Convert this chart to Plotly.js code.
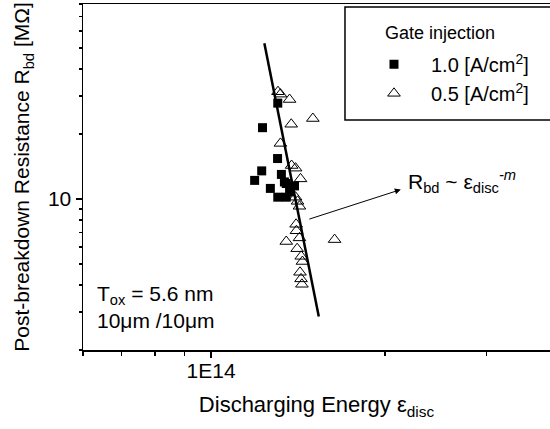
<!DOCTYPE html>
<html>
<head>
<meta charset="utf-8">
<script src="https://cdn.plot.ly/plotly-3.0.1.min.js"></script>
<style>html,body{margin:0;padding:0;background:#fff;}#chart{width:550px;height:429px;}</style>
</head>
<body>
<div id="chart"></div>
<script>
// Gate injection 1.0 A/cm2 (filled squares)
const sqX = [1.305e14, 1.228e14, 1.304e14, 1.224e14, 1.19e14, 1.324e14, 1.267e14, 1.305e14, 1.35e14, 1.35e14, 1.395e14, 1.34e14, 1.368e14];
const sqY = [27.8, 21.4, 15.4, 13.5, 12.2, 13.0, 11.2, 10.2, 10.2, 11.8, 11.5, 12.0, 10.8];
// Gate injection 0.5 A/cm2 (open triangles)
const trX = [1.306e14, 1.319e14, 1.368e14, 1.501e14, 1.377e14, 1.319e14, 1.379e14, 1.401e14, 1.429e14, 1.401e14, 1.412e14, 1.423e14, 1.404e14, 1.406e14, 1.35e14, 1.423e14, 1.41e14, 1.433e14, 1.44e14, 1.426e14, 1.432e14, 1.437e14, 1.637e14];
const trY = [31.4, 30.6, 28.9, 23.6, 22.2, 18.1, 14.3, 13.9, 12.4, 10.2, 9.76, 9.26, 7.64, 7.13, 6.36, 6.61, 5.89, 5.43, 5.14, 4.58, 4.27, 4.03, 6.49];
// Power-law fit line R_bd ~ eps^-m
const fitX = [1.237e14, 1.537e14];
const fitY = [52.6, 2.86];
// Axis ticks
const xMajor = [1e14];
const xMajorText = ["1E14"];
const xMinor = [6e13, 7e13, 8e13, 9e13, 2e14, 3e14];
const yMajor = [10];
const yMajorText = ["10"];
const yMinor = [2, 3, 4, 5, 6, 7, 8, 9, 20, 30, 40, 50, 60, 70, 80];
const legendTitle = "Gate injection";
const legendNames = ["1.0 [A/cm<sup>2</sup>]", "0.5 [A/cm<sup>2</sup>]"];

const FONT = "Liberation Sans, Arial, sans-serif";

const traces = [
  {x: fitX, y: fitY, mode: "lines", line: {color: "#000", width: 2.5}, showlegend: false, hoverinfo: "skip"},
  {x: sqX, y: sqY, mode: "markers", name: legendNames[0],
   marker: {symbol: "square", size: 9, color: "#000", line: {width: 0}}},
  {x: trX, y: trY, mode: "markers", name: legendNames[1],
   marker: {symbol: "triangle-up-open", size: 11, color: "#000", line: {width: 1, color: "#000"}}}
];

const layout = {
  width: 550, height: 429,
  margin: {l: 83, r: 0, t: 4, b: 79},
  paper_bgcolor: "#fff", plot_bgcolor: "#fff",
  font: {family: FONT, color: "#000", size: 20},
  showlegend: true,
  legend: {
    x: 0.5867, y: 0.882, xanchor: "left", yanchor: "top",
    bgcolor: "rgba(0,0,0,0)", borderwidth: 0, itemwidth: 64,
    font: {family: FONT, size: 20, color: "#000"}
  },
  xaxis: {
    type: "log",
    range: [Math.log10(6e13), 14.5873],
    showgrid: false, zeroline: false,
    showline: true, linecolor: "#000", linewidth: 1.5, mirror: true,
    ticks: "outside", ticklen: 6, tickwidth: 1.5, tickcolor: "#000",
    ticklabelstandoff: -5,
    tickmode: "array", tickvals: xMajor, ticktext: xMajorText,
    tickfont: {family: FONT, size: 21, color: "#000"},
    minor: {tickmode: "array", tickvals: xMinor, ticks: "outside", ticklen: 4, tickwidth: 1.5, tickcolor: "#000"},
    title: {text: "Discharging Energy ε<sub>disc</sub>", font: {family: FONT, size: 22, color: "#000"}, standoff: 16}
  },
  yaxis: {
    type: "log",
    range: [Math.log10(2), Math.log10(80)],
    showgrid: false, zeroline: false,
    showline: true, linecolor: "#000", linewidth: 1.5, mirror: false,
    ticks: "outside", ticklen: 6, tickwidth: 1.5, tickcolor: "#000",
    tickmode: "array", tickvals: yMajor, ticktext: yMajorText,
    tickfont: {family: FONT, size: 21, color: "#000"},
    minor: {tickmode: "array", tickvals: yMinor, ticks: "outside", ticklen: 3, tickwidth: 1.5, tickcolor: "#000"},
    title: {text: "Post-breakdown Resistance R<sub>bd</sub> [MΩ]", font: {family: FONT, size: 21, color: "#000"}, standoff: 12}
  },
  shapes: [
    {type: "rect", xref: "paper", yref: "paper", x0: 0.561, x1: 1.2, y0: 0.665, y1: 0.991,
     line: {color: "#000", width: 1.5}, fillcolor: "rgba(0,0,0,0)", layer: "above"}
  ],
  annotations: [
    {xref: "paper", yref: "paper", x: 0.643, y: 0.916, xanchor: "left", yanchor: "middle", showarrow: false,
     text: legendTitle, font: {family: FONT, size: 18, color: "#000"}},
    {xref: "x", yref: "y", x: 14.3288, y: 1.0438, ax: -93, ay: 30, axref: "pixel", ayref: "pixel",
     showarrow: true, arrowhead: 2, arrowsize: 1.2, arrowwidth: 1, arrowcolor: "#000", text: ""},
    {xref: "paper", yref: "paper", x: 0.692, y: 0.486, xanchor: "left", yanchor: "middle", showarrow: false,
     text: "R<sub>bd</sub> ~ ε<sub>disc</sub><sup><i>-m</i></sup>", font: {family: FONT, size: 21, color: "#000"}},
    {xref: "paper", yref: "paper", x: 0.0257, y: 0.124, xanchor: "left", yanchor: "middle", showarrow: false, align: "left",
     text: "T<sub>ox</sub> = 5.6 nm<br>10μm /10μm", font: {family: FONT, size: 21, color: "#000"}}
  ]
};

Plotly.newPlot("chart", traces, layout, {displayModeBar: false, staticPlot: true});
</script>
</body>
</html>
